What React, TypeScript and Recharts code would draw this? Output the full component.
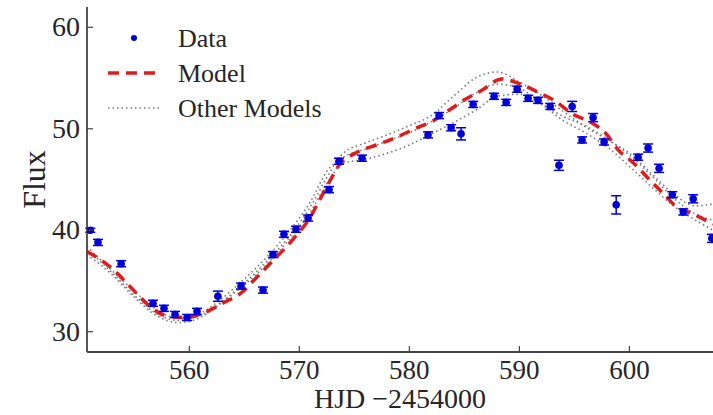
import React from "react";
import { ComposedChart, Line, Scatter, ErrorBar, XAxis, YAxis, Legend } from "recharts";

// photometry points (HJD - 2454000, flux, 1-sigma error)
const dataHjd = [
  551.0, 551.7, 553.8, 556.7, 557.7, 558.7, 559.8, 560.7, 562.6, 564.7, 566.7, 567.6, 568.6, 569.7,
  570.8, 572.7, 573.6, 575.7, 581.7, 582.7, 583.8, 584.7, 585.8, 587.7, 588.8, 589.8, 590.8, 591.7,
  592.8, 593.6, 594.8, 595.7, 596.7, 597.7, 598.8, 600.8, 601.7, 602.7, 603.9, 604.9, 605.8, 607.5,
];
const dataFlux = [
  40.0, 38.8, 36.7, 32.8, 32.3, 31.7, 31.4, 32.0, 33.5, 34.5, 34.1, 37.6, 39.6, 40.1,
  41.2, 44.0, 46.8, 47.1, 49.4, 51.3, 50.1, 49.5, 52.4, 53.2, 52.6, 53.9, 53.0, 52.8,
  52.2, 46.4, 52.2, 48.9, 51.1, 48.7, 42.5, 47.2, 48.1, 46.1, 43.5, 41.8, 43.1, 39.2,
];
const dataErr = [
  0.2, 0.3, 0.3, 0.3, 0.3, 0.3, 0.3, 0.3, 0.5, 0.3, 0.3, 0.3, 0.3, 0.3,
  0.3, 0.3, 0.3, 0.3, 0.3, 0.3, 0.3, 0.6, 0.3, 0.3, 0.3, 0.3, 0.3, 0.3,
  0.3, 0.5, 0.5, 0.3, 0.4, 0.3, 0.9, 0.3, 0.4, 0.4, 0.3, 0.3, 0.4, 0.4,
];

// best model
const modelHjd = [
  550.7, 552.8, 555.1, 556.3, 557.8, 559.6, 561.4, 563.2, 564.8, 565.8, 567.6, 569.5, 571.0, 571.9,
  572.8, 573.6, 575.1, 577.0, 578.9, 580.5, 582.2, 583.7, 585.1, 586.6, 588.4, 590.1, 591.7, 593.3,
  594.9, 596.4, 597.8, 599.0, 600.4, 601.9, 603.1, 604.3, 605.8, 607.6,
];
const modelFlux = [
  37.9, 36.4, 33.9, 32.6, 31.6, 31.4, 31.9, 32.9, 33.9, 35.0, 37.0, 39.2, 41.3, 43.1,
  44.9, 46.4, 47.6, 48.4, 49.2, 50.0, 50.8, 51.9, 52.9, 53.8, 54.9, 54.4, 53.6, 52.7,
  51.4, 50.7, 49.6, 47.9, 46.6, 44.9, 43.6, 42.3, 41.6, 40.6,
];

// other models, on a shared grid
const otherHjd = [
  550.7, 553, 555, 557, 559, 561, 563, 565, 567, 569, 571, 572.5, 574, 576, 578,
  580, 582, 584, 586, 588, 590, 592, 594, 596, 598, 600, 602, 604, 606, 607.6,
];
const otherFluxA = [
  38.4, 36.0, 34.0, 32.2, 31.3, 31.6, 33.0, 34.8, 36.9, 39.3, 42.3, 45.2, 47.6, 48.6, 49.4,
  50.3, 51.3, 53.2, 55.0, 55.6, 54.6, 53.3, 51.7, 50.2, 48.9, 47.6, 45.6, 43.6, 42.4, 42.6,
];
const otherFluxB = [
  37.6, 35.6, 33.4, 31.6, 30.9, 31.4, 32.9, 34.6, 36.6, 39.0, 41.8, 44.6, 46.6, 47.0, 47.6,
  48.4, 49.5, 50.6, 51.8, 53.2, 53.4, 52.4, 50.8, 49.6, 48.2, 46.3, 44.3, 42.4, 41.0, 40.0,
];
const otherFluxC = [
  38.1, 35.8, 33.6, 31.8, 31.1, 31.8, 33.3, 35.2, 37.3, 39.8, 42.8, 45.8, 47.2, 48.0, 48.8,
  49.6, 50.7, 52.0, 53.5, 54.4, 54.0, 52.5, 51.2, 50.3, 49.0, 47.4, 45.4, 43.2, 41.6, 41.0,
];

const xTicks = [560, 570, 580, 590, 600];
const yTicks = [30, 40, 50, 60];
const legendLabels = ["Data", "Model", "Other Models"];

const FONT = "'Liberation Serif', 'DejaVu Serif', serif";
const AXIS = "#444";
const TEXT = "#262626";
const BLUE = "#0000d8";
const RED = "#dd1c1c";
const GRAY = "#7a7a7a";

const points = dataHjd.map((x, i) => ({ x, y: dataFlux[i], err: dataErr[i] }));
const model = modelHjd.map((x, i) => ({ x, y: modelFlux[i] }));
const others = [otherFluxA, otherFluxB, otherFluxC].map((f) =>
  otherHjd.map((x, i) => ({ x, y: f[i] }))
);

const BottomTick = ({ x, y, payload }: any) => (
  <g>
    <line x1={x} x2={x} y1={y} y2={y - 6} stroke={AXIS} strokeWidth={1.2} />
    <text x={x} y={y + 27} textAnchor="middle" fontSize={27} fontFamily={FONT} fill={TEXT}>
      {payload.value}
    </text>
  </g>
);
const TopTick = ({ x, y }: any) => (
  <line x1={x} x2={x} y1={y} y2={y + 6} stroke={AXIS} strokeWidth={1.2} />
);
const LeftTick = ({ x, y, payload }: any) => (
  <g>
    <line x1={x} x2={x + 6} y1={y} y2={y} stroke={AXIS} strokeWidth={1.2} />
    <text x={x - 7} y={y + 9} textAnchor="end" fontSize={28} fontFamily={FONT} fill={TEXT}>
      {payload.value}
    </text>
  </g>
);
const RightTick = ({ x, y }: any) => (
  <line x1={x} x2={x - 6} y1={y} y2={y} stroke={AXIS} strokeWidth={1.2} />
);

const Dot = ({ cx, cy }: any) => <circle cx={cx} cy={cy} r={3.8} fill={BLUE} />;

const LegendBox = () => (
  <svg width={260} height={110} style={{ display: "block" }}>
    <circle cx={34} cy={18} r={3} fill={BLUE} />
    <line x1={8} x2={60} y1={53} y2={53} stroke={RED} strokeWidth={3.5} strokeDasharray="11 7" />
    <line x1={8} x2={60} y1={88} y2={88} stroke={GRAY} strokeWidth={1.6} strokeDasharray="1.5 3" />
    {legendLabels.map((t, i) => (
      <text key={t} x={78} y={27 + i * 35} fontSize={26} fontFamily={FONT} fill={TEXT}>
        {t}
      </text>
    ))}
  </svg>
);

export default function App() {
  return (
    <div style={{ width: 713, height: 415, background: "#fff" }}>
      <style>{`body{margin:0}`}</style>
      <ComposedChart width={713} height={415} margin={{ top: 7, right: 0, bottom: 0, left: 0 }}>
        <XAxis
          dataKey="x"
          type="number"
          domain={[550.7, 607.6]}
          allowDataOverflow
          ticks={xTicks}
          tick={<BottomTick />}
          tickSize={0}
          tickMargin={0}
          tickLine={false}
          height={63}
          axisLine={{ stroke: AXIS, strokeWidth: 1.8 }}
          label={({ viewBox }: any) => (
            <text
              x={viewBox.x + viewBox.width / 2}
              y={viewBox.y + 56}
              textAnchor="middle"
              fontSize={28}
              fontFamily={FONT}
              fill={TEXT}
            >
              HJD −2454000
            </text>
          )}
        />
        <XAxis
          xAxisId="top"
          orientation="top"
          dataKey="x"
          type="number"
          domain={[550.7, 607.6]}
          allowDataOverflow
          ticks={xTicks}
          tick={<TopTick />}
          tickSize={0}
          tickMargin={0}
          tickLine={false}
          height={0}
          axisLine={{ stroke: AXIS, strokeWidth: 1.8 }}
        />
        <YAxis
          type="number"
          domain={[28, 62]}
          allowDataOverflow
          ticks={yTicks}
          tick={<LeftTick />}
          tickSize={0}
          tickMargin={0}
          tickLine={false}
          width={87}
          axisLine={{ stroke: AXIS, strokeWidth: 1.8 }}
          label={({ viewBox }: any) => (
            <text
              x={34}
              y={viewBox.y + viewBox.height / 2}
              transform={`rotate(-90 34 ${viewBox.y + viewBox.height / 2})`}
              textAnchor="middle"
              dominantBaseline="central"
              fontSize={32}
              fontFamily={FONT}
              fill={TEXT}
            >
              Flux
            </text>
          )}
        />
        <YAxis
          yAxisId="right"
          orientation="right"
          type="number"
          domain={[28, 62]}
          ticks={yTicks}
          tick={<RightTick />}
          tickSize={0}
          tickMargin={0}
          tickLine={false}
          width={0}
          axisLine={{ stroke: AXIS, strokeWidth: 1.8 }}
        />
        <Legend
          layout="vertical"
          align="center"
          verticalAlign="middle"
          content={<LegendBox />}
          wrapperStyle={{ left: 100, top: 20, width: 260 }}
        />
        {others.map((d, i) => (
          <Line
            key={i}
            data={d}
            dataKey="y"
            type="monotone"
            stroke={GRAY}
            strokeWidth={1.6}
            strokeDasharray="1.5 3"
            dot={false}
            isAnimationActive={false}
          />
        ))}
        <Line
          data={model}
          dataKey="y"
          type="monotone"
          stroke={RED}
          strokeWidth={3.5}
          strokeDasharray="11 7"
          dot={false}
          isAnimationActive={false}
        />
        <Scatter data={points} dataKey="y" fill={BLUE} shape={<Dot />} isAnimationActive={false}>
          <ErrorBar dataKey="err" direction="y" width={5} stroke={BLUE} strokeWidth={1.5} />
        </Scatter>
      </ComposedChart>
    </div>
  );
}
